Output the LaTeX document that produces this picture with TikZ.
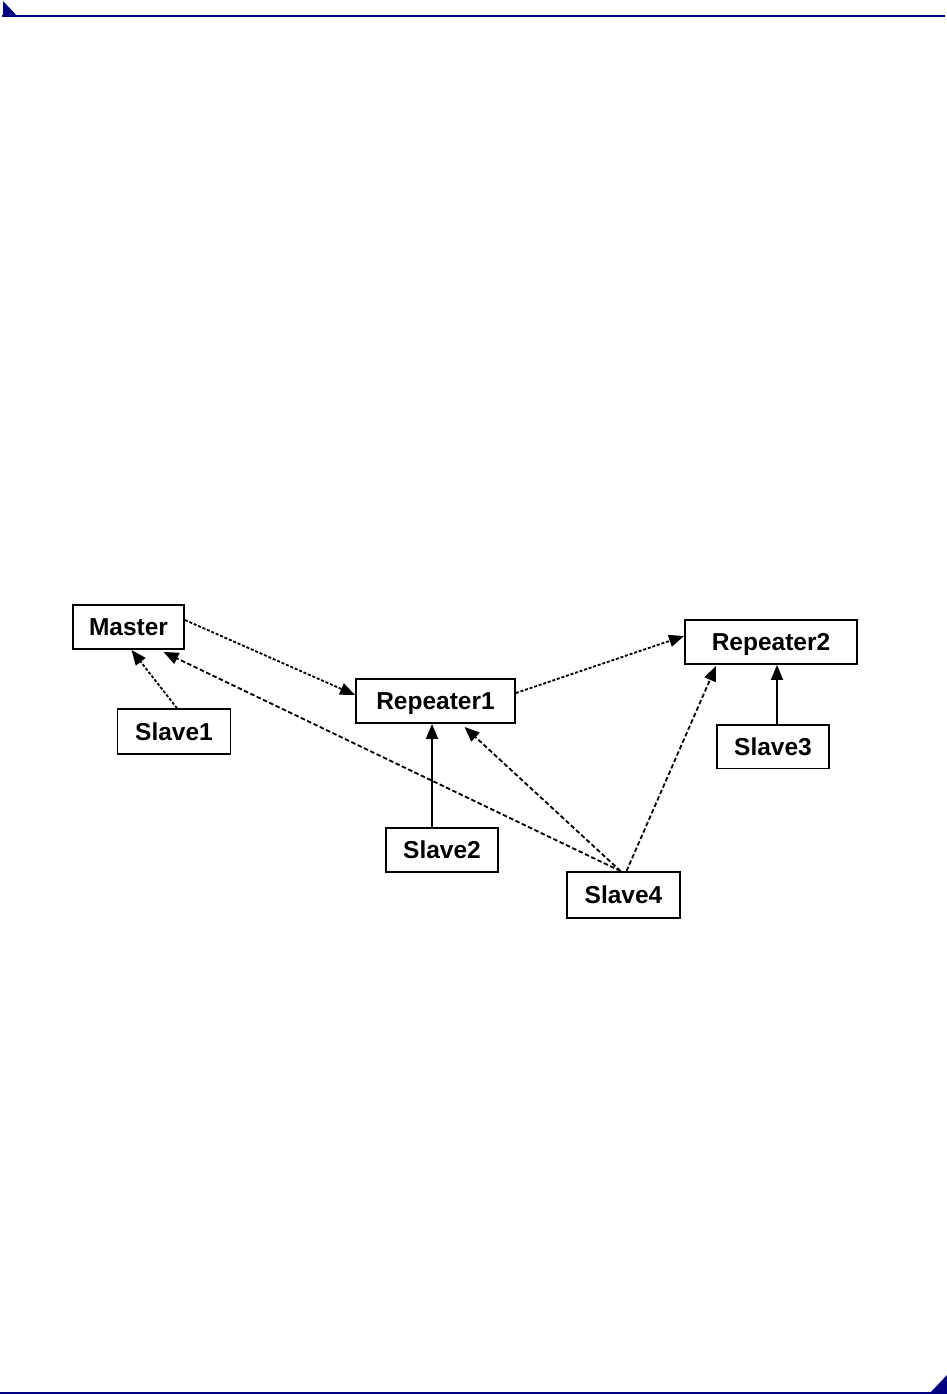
\documentclass[tikz,border=0pt]{standalone}
\usepackage{fontspec}
\setmainfont{Liberation Sans}
\usetikzlibrary{arrows.meta,calc}
\definecolor{navy}{RGB}{0,0,128}
\tikzset{
  box/.style={draw=black,line width=1.9pt,inner sep=0pt,text height=17.5pt,text depth=0pt,font=\fontsize{24.5pt}{28pt}\selectfont\bfseries,text=black},
  conn/.style={line width=1.8pt,-{Triangle[length=15pt,width=12pt]}},
  fine/.style={conn,dash pattern=on 3pt off 1.8pt},
  coarse/.style={conn,dash pattern=on 4.5pt off 2.5pt},
  solidc/.style={conn}
}
\begin{document}
\begin{tikzpicture}[x=1pt,y=-1pt]
\useasboundingbox (0,0) rectangle (947,1394);
% header and footer
\fill[navy] (2,15.5) rectangle (945,17.5);
\fill[navy] (3,1) -- (3,17) -- (18,17) -- cycle;
\fill[navy] (0,1392) rectangle (947,1394);
\fill[navy] (930,1393) -- (947,1393) -- (947,1375) -- cycle;
% nodes
\node[box,minimum width=111pt,minimum height=44pt] (Master) at (128.5,627) {Master};
\node[box,minimum width=113pt,minimum height=45pt] (Slave1) at (174,731.7) {Slave1};
\node[box,minimum width=159pt,minimum height=44pt] (Repeater1) at (435.5,701) {Repeater1};
\node[box,minimum width=172pt,minimum height=44pt] (Repeater2) at (771,642) {Repeater2};
\node[box,minimum width=112.5pt,minimum height=43.5pt] (Slave3) at (773,746.7) {Slave3};
\node[box,minimum width=112pt,minimum height=44.5pt] (Slave2) at (442,850) {Slave2};
\node[box,minimum width=113pt,minimum height=46pt] (Slave4) at (623.5,895) {Slave4};
% connectors
\draw[fine] ([yshift=7pt]Master.east) -- ([yshift=6pt]Repeater1.west);
\draw[fine] ([yshift=8pt]Repeater1.east) -- ([yshift=6pt]Repeater2.west);
\draw[fine] ([xshift=3pt]Slave1.north) -- ([xshift=3pt]Master.south);
\draw[solidc] ([xshift=-10pt]Slave2.north) -- ([xshift=-10pt]Slave2.north |- Repeater1.south);
\draw[solidc] ([xshift=4pt]Slave3.north) -- ([xshift=4pt]Slave3.north |- Repeater2.south);
\draw[coarse] ([xshift=-3pt]Slave4.north) -- ([xshift=35pt,yshift=-2pt]Master.south);
\draw[coarse] ([xshift=-3pt]Slave4.north) -- ([xshift=29pt,yshift=-3pt]Repeater1.south);
\draw[coarse] ([xshift=3pt]Slave4.north) -- ([xshift=-55pt,yshift=-1pt]Repeater2.south);
\end{tikzpicture}
\end{document}
